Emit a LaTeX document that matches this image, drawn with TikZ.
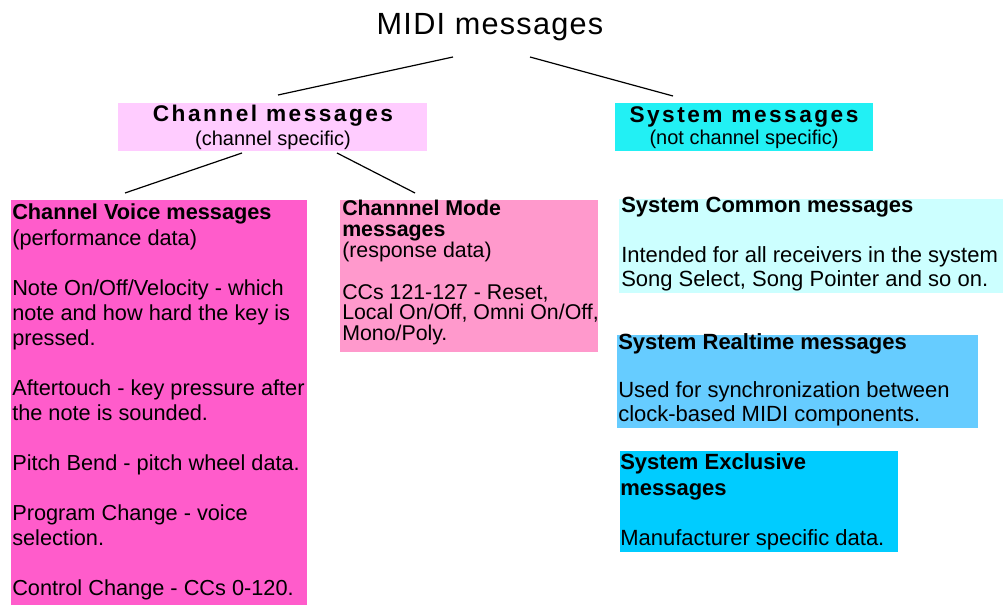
\documentclass[tikz,border=0pt]{standalone}
\usepackage{fontspec}
\setmainfont{Liberation Sans}
\newfontfamily\trackedfont[LetterSpace=11]{Liberation Sans}
\newfontfamily\titlefont[LetterSpace=4]{Liberation Sans}
\usetikzlibrary{fit}

\definecolor{chanhead}{HTML}{FFCCFF}
\definecolor{syshead}{HTML}{22F0F4}
\definecolor{voicefill}{HTML}{FF5CCB}
\definecolor{modefill}{HTML}{FF99CC}
\definecolor{commonfill}{HTML}{CCFFFF}
\definecolor{realtimefill}{HTML}{66CCFF}
\definecolor{exclusivefill}{HTML}{00CCFF}

% one line of a stacked text block
\newcommand\textrow[1]{\hbox{#1}}
% a block of lines whose reference point is the first baseline
\newcommand\textblock[1]{\vtop{\lineskiplimit=-\maxdimen\lineskip=0pt #1}}

\tikzset{
  panel/.style={inner sep=0pt, outer sep=0pt, draw=none},
  heading/.style={inner sep=0pt, anchor=base,
    font=\trackedfont\bfseries\fontsize{17}{19}\selectfont},
  subheading/.style={inner sep=0pt, anchor=base,
    font=\fontsize{15}{18}\selectfont},
  body/.style={inner sep=0pt, anchor=base west,
    font=\fontsize{16.3}{18.8}\selectfont},
  modebody/.style={inner sep=0pt, anchor=base west,
    font=\fontsize{16}{15.6}\selectfont},
  link/.style={draw=black, line width=0.9pt},
}

\begin{document}
\begin{tikzpicture}[x=0.75pt, y=-0.75pt]
\useasboundingbox (0,0) rectangle (1003,605);

% coloured panels
\node[panel, fill=chanhead, fit={(118,103) (427,151)}] (chanbox) {};
\node[panel, fill=syshead, fit={(615,103) (873,151)}] (sysbox) {};
\node[panel, fill=voicefill, fit={(11,200) (307,605)}] (voicebox) {};
\node[panel, fill=modefill, fit={(340,200) (598,352)}] (modebox) {};
\node[panel, fill=commonfill, fit={(619,199) (1003,293)}] (commonbox) {};
\node[panel, fill=realtimefill, fit={(617,335) (978,428)}] (realtimebox) {};
\node[panel, fill=exclusivefill, fit={(620,451) (898,552)}] (exclusivebox) {};

% title and group headings
\node[inner sep=0pt, anchor=base, font=\titlefont\fontsize{23}{27}\selectfont]
  (title) at (490,35) {MIDI messages};
\node[heading] (chan) at (273,122) {Channel messages};
\node[subheading] (chansub) at (273,146) {(channel specific)};
\node[heading] (sys) at (744,123) {System messages};
\node[subheading] (syssub) at (744,145) {(not channel specific)};

% panel texts
\node[body] (voice) at (12,220) {\textblock{%
  \textrow{\bfseries Channel Voice messages}
  \textrow{(performance data)}
  \textrow{}
  \textrow{Note On/Off/Velocity - which}
  \textrow{note and how hard the key is}
  \textrow{pressed.}
  \textrow{}
  \textrow{Aftertouch - key pressure after}
  \textrow{the note is sounded.}
  \textrow{}
  \textrow{Pitch Bend - pitch wheel data.}
  \textrow{}
  \textrow{Program Change - voice}
  \textrow{selection.}
  \textrow{}
  \textrow{Control Change - CCs 0-120.}}};

\node[modebody] (mode) at (342,216) {\textblock{%
  \textrow{\bfseries Channnel Mode}
  \textrow{\bfseries messages}
  \textrow{(response data)}
  \textrow{}
  \textrow{CCs 121-127 - Reset,}
  \textrow{Local On/Off, Omni On/Off,}
  \textrow{Mono/Poly.}}};

\node[body, font=\fontsize{16.5}{18.5}\selectfont] (common) at (621,213) {\textblock{%
  \textrow{\bfseries System Common messages}
  \textrow{}
  \textrow{Intended for all receivers in the system}
  \textrow{Song Select, Song Pointer and so on.}}};

\node[body, font=\fontsize{16.5}{18}\selectfont] (realtime) at (618,350) {\textblock{%
  \textrow{\bfseries System Realtime messages}
  \textrow{}
  \textrow{Used for synchronization between}
  \textrow{clock-based MIDI components.}}};

\node[body, font=\fontsize{16.5}{18.8}\selectfont] (exclusive) at (620,470) {\textblock{%
  \textrow{\bfseries System Exclusive}
  \textrow{\bfseries messages}
  \textrow{}
  \textrow{Manufacturer specific data.}}};

% connector end points
\coordinate (title-l) at (453,57);
\coordinate (title-r) at (530,57);
\coordinate (chan-top) at (278,95);
\coordinate (sys-top) at (673,96);
\coordinate (chan-l) at (242,153);
\coordinate (chan-r) at (337,153);
\coordinate (voice-top) at (125,193);
\coordinate (mode-top) at (415,193);

% tree connectors
\draw[link] (title-l) -- (chan-top);
\draw[link] (title-r) -- (sys-top);
\draw[link] (chan-l) -- (voice-top);
\draw[link] (chan-r) -- (mode-top);
\end{tikzpicture}
\end{document}
